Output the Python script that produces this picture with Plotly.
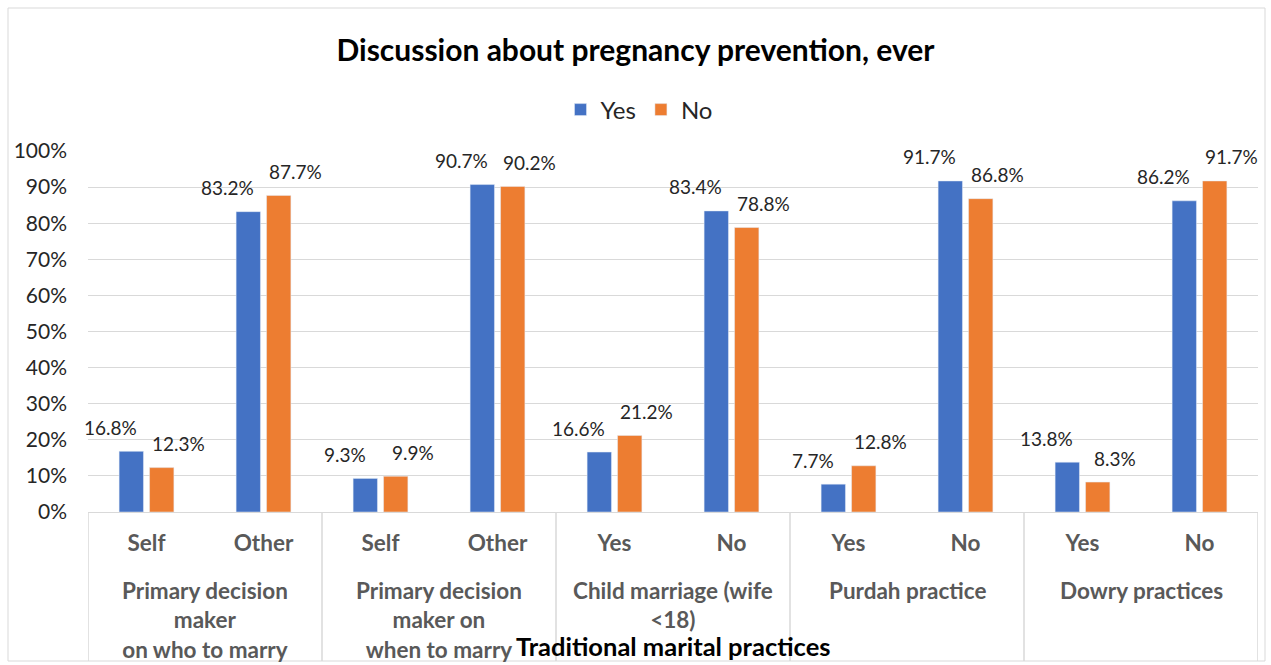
import plotly.graph_objects as go

group_names = ["Primary decision<br>maker<br>on who to marry",
               "Primary decision<br>maker on<br>when to marry",
               "Child marriage (wife<br><18)",
               "Purdah practice",
               "Dowry practices"]
subcats = ["Self", "Other", "Self", "Other", "Yes", "No", "Yes", "No", "Yes", "No"]
yes_vals = [16.8, 83.2, 9.3, 90.7, 16.6, 83.4, 7.7, 91.7, 13.8, 86.2]
no_vals = [12.3, 87.7, 9.9, 90.2, 21.2, 78.8, 12.8, 86.8, 8.3, 91.7]
y_ticks = list(range(0, 101, 10))

FONT = "Lato"
xpos = list(range(len(subcats)))
per_group = len(subcats) // len(group_names)

L, R, T, B = 88, 13, 151, 153
W, H = 1271, 665
pw, ph = W - L - R, H - T - B
def py(pix):
    return (512 - pix) / ph

fig = go.Figure()
series = [("Yes", yes_vals, "#4472C4", -36), ("No", no_vals, "#ED7D31", 32)]
for name, vals, col, dx in series:
    fig.add_trace(go.Bar(x=xpos, y=vals, name=name, marker_color=col))
    for xi, v in zip(xpos, vals):
        fig.add_annotation(x=xi, y=v, xref="x", yref="y", text=f"{v:.1f}%", showarrow=False,
                           xanchor="center", yanchor="middle", xshift=dx, yshift=24,
                           font=dict(size=19, color="#262626", family=FONT))

fig.update_layout(
    width=W, height=H,
    margin=dict(l=L, r=R, t=T, b=B, autoexpand=False),
    paper_bgcolor="white", plot_bgcolor="white",
    font=dict(family=FONT, color="#404040"),
    barmode="group", bargap=0.48, bargroupgap=0.2,
    title=dict(text="<b>Discussion about pregnancy prevention, ever</b>", x=0.5, xanchor="center",
               y=1 - 50 / H, yanchor="middle", font=dict(size=30, color="black", family=FONT)),
    legend=dict(orientation="h", x=0.5 - 34 / pw, xanchor="center", y=py(110), yref="paper",
                yanchor="middle", font=dict(size=24, color="#262626", family=FONT), itemwidth=30),
    xaxis=dict(range=[-0.5, len(subcats) - 0.5], tickvals=xpos, ticktext=subcats,
               showline=True, linecolor="#d9d9d9", linewidth=1, showgrid=False, zeroline=False,
               ticks="", ticklabelstandoff=11,
               tickfont=dict(size=22.5, color="#595959", family=FONT, weight="bold"),
               automargin=False),
    yaxis=dict(range=[0, 100], tickvals=y_ticks, ticktext=[f"{v}%" for v in y_ticks],
               showgrid=True, gridcolor="#d9d9d9", zeroline=False, ticks="", ticklabelstandoff=20,
               tickfont=dict(size=21, color="#262626", family=FONT), automargin=False),
)

# group labels and dividers
for g, gname in enumerate(group_names):
    center = g * per_group + (per_group - 1) / 2
    fig.add_annotation(text=f"<b>{gname}</b>", xref="x", yref="paper", x=center, y=py(575),
                       xanchor="center", yanchor="top", showarrow=False, align="center",
                       font=dict(size=22.5, color="#595959", family=FONT))
for g in range(len(group_names) + 1):
    xd = g * per_group - 0.5
    fig.add_shape(type="line", xref="x", yref="paper", x0=xd, x1=xd, y0=0, y1=py(661),
                  line=dict(color="#d9d9d9", width=1.5))

fig.add_annotation(text="<b>Traditional marital practices</b>", xref="paper", yref="paper",
                   x=0.5, y=py(646), xanchor="center", yanchor="middle", showarrow=False,
                   font=dict(size=25.5, color="black", family=FONT))

fig.add_shape(type="rect", xref="paper", yref="paper",
              x0=(8 - L) / pw, x1=(1265 - L) / pw, y0=py(661), y1=py(8),
              line=dict(color="#d9d9d9", width=1), fillcolor="rgba(0,0,0,0)", layer="below")

fig.write_html("out.html")
